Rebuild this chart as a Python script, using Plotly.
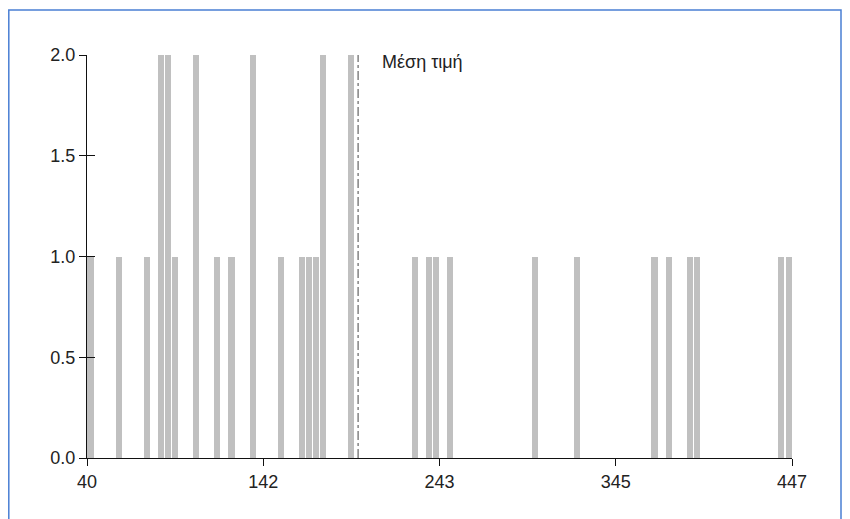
import plotly.graph_objects as go

# Histogram bins (bin centres) and counts
bin_centers = [42.0, 58.3, 74.6, 82.7, 86.8, 90.9, 103.1, 115.3, 123.4, 135.6,
               151.9, 164.1, 168.2, 172.3, 176.3, 192.6, 229.3, 237.4, 241.5, 249.6,
               298.4, 322.9, 367.6, 375.8, 388.0, 392.1, 440.9, 445.0]
counts = [1, 1, 1, 2, 2, 1, 2, 1, 1, 2,
          1, 1, 1, 1, 2, 2, 1, 1, 1, 1,
          1, 1, 1, 1, 1, 1, 1, 1]
mean_value = 196.5
mean_label = "Μέση τιμή"
x_tick_vals = [40, 141.75, 243.5, 345.25, 447]
x_tick_text = ["40", "142", "243", "345", "447"]
y_tick_vals = [0, 0.5, 1.0, 1.5, 2.0]

font = dict(family="Liberation Sans, Arial, sans-serif", size=18, color="#222222")

fig = go.Figure()
fig.add_trace(go.Bar(x=bin_centers, y=counts, width=3.5,
                     marker=dict(color="#c0c0c0", line=dict(width=0)),
                     showlegend=False, hoverinfo="x+y"))
# invisible helper trace on the overlay axis for the inner half of y ticks
fig.add_trace(go.Scatter(x=[None], y=[None], yaxis="y2", showlegend=False))

# page has an 8px body margin, so margins are offset by 8px
fig.update_layout(
    width=850, height=519,
    margin=dict(l=79, r=66, t=47, b=69),
    paper_bgcolor="white", plot_bgcolor="white",
    font=font,
    bargap=0,
    xaxis=dict(range=[40, 447], tickvals=x_tick_vals, ticktext=x_tick_text,
               showgrid=False, zeroline=False, showline=True, linecolor="#111111",
               linewidth=1, ticks="outside", ticklen=7, tickcolor="#111111",
               tickfont=font),
    yaxis=dict(range=[0, 2], tickvals=y_tick_vals, tickformat=".1f",
               showgrid=False, zeroline=False, showline=True, linecolor="#111111",
               linewidth=1, ticks="outside", ticklen=7, tickcolor="#111111",
               tickfont=font),
    yaxis2=dict(range=[0, 2], overlaying="y", side="left", tickvals=y_tick_vals,
                showticklabels=False, showgrid=False, zeroline=False, showline=False,
                ticks="inside", ticklen=8, tickcolor="#111111"),
    shapes=[
        dict(type="line", xref="x", yref="y", x0=mean_value, x1=mean_value, y0=0, y1=2,
             line=dict(color="#444444", width=1, dash="dashdot")),
        dict(type="rect", xref="paper", yref="paper",
             x0=(8.8 - 87) / 705, x1=(841 - 87) / 705,
             y0=(458 - 540) / 403, y1=(458 - 10) / 403,
             line=dict(color="#4a7fd4", width=1.5), fillcolor="rgba(0,0,0,0)"),
    ],
    annotations=[
        dict(x=209, y=(458 - 62) / 403, xref="x", yref="paper", text=mean_label,
             showarrow=False, xanchor="left", yanchor="middle",
             font=dict(family="Liberation Sans, Arial, sans-serif", size=18, color="#222222")),
    ],
)

fig.write_html("out.html")
